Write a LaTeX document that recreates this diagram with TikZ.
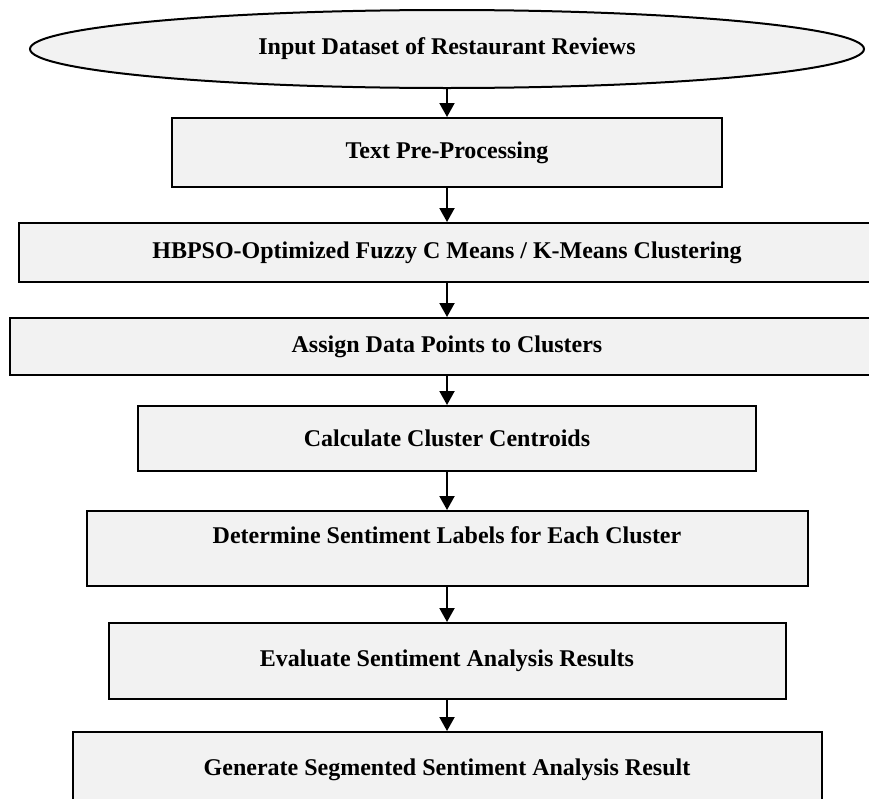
\documentclass[tikz,border=0pt]{standalone}
\usepackage{fontspec}
\setmainfont{Liberation Serif}
\usetikzlibrary{shapes.geometric,arrows.meta}
\definecolor{boxfill}{HTML}{F2F2F2}
\tikzset{
  stepbox/.style={draw=black, line width=2pt, fill=boxfill, rectangle, inner sep=0pt,
    font=\fontsize{24}{28}\selectfont\bfseries, align=center},
  startell/.style={draw=black, line width=2pt, fill=boxfill, ellipse, inner sep=0pt,
    font=\fontsize{24}{28}\selectfont\bfseries},
  flow/.style={line width=2pt, -{Triangle[width=15pt,length=14pt]}}
}
\begin{document}
\begin{tikzpicture}[x=1pt,y=-1pt]
\useasboundingbox (0,0) rectangle (869,798);
\clip (0,0) rectangle (869,798);
\node[startell, minimum width=834pt, minimum height=78pt] (input) at (447,49) {Input Dataset of Restaurant Reviews};
\node[stepbox, minimum width=550pt, minimum height=69pt] (pre) at (447,152.5) {Text Pre-Processing};
\node[stepbox, minimum width=856pt, minimum height=59pt] (hbpso) at (447,252.5) {HBPSO-Optimized Fuzzy C Means / K-Means Clustering};
\node[stepbox, minimum width=874pt, minimum height=57pt] (assign) at (447,346.5) {Assign Data Points to Clusters};
\node[stepbox, minimum width=618pt, minimum height=65pt] (centroid) at (447,438.5) {Calculate Cluster Centroids};
\node[stepbox, minimum width=721pt, minimum height=75pt, text depth=26pt] (label) at (447,548.5) {Determine Sentiment Labels for Each Cluster};
\node[stepbox, minimum width=677pt, minimum height=76pt] (eval) at (447,661) {Evaluate Sentiment Analysis Results};
\node[stepbox, minimum width=749pt, minimum height=76pt] (gen) at (447,770) {Generate Segmented Sentiment Analysis Result};
\draw[flow] (input) -- (pre);
\draw[flow] (pre) -- (hbpso);
\draw[flow] (hbpso) -- (assign);
\draw[flow] (assign) -- (centroid);
\draw[flow] (centroid) -- (label);
\draw[flow] (label) -- (eval);
\draw[flow] (eval) -- (gen);
\end{tikzpicture}
\end{document}
